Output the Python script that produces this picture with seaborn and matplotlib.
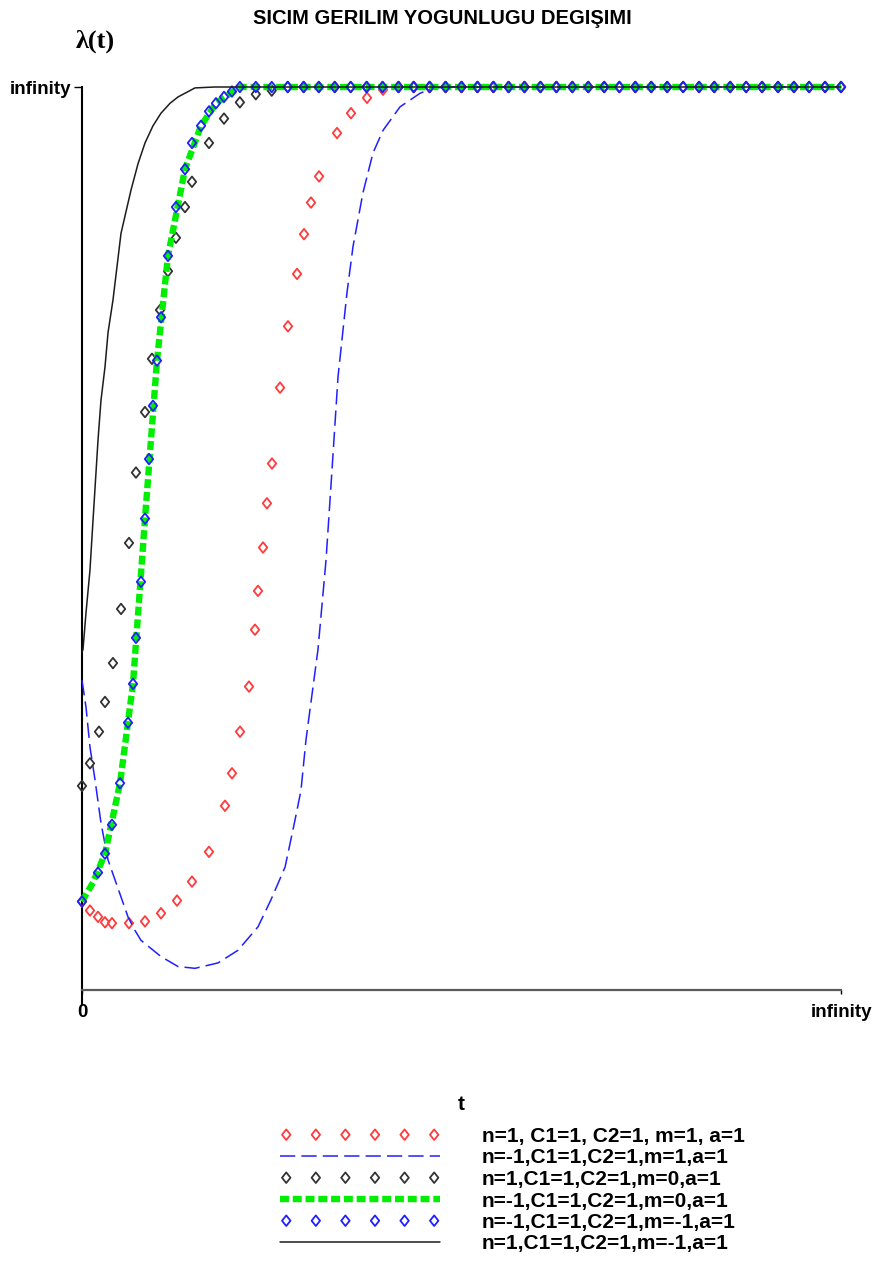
import matplotlib
matplotlib.use("Agg")
import matplotlib.pyplot as plt
import seaborn as sns
from matplotlib.path import Path

# Compactified axes: 0 .. 100 on both axes, 100 standing for infinity.
title = "SICIM GERILIM YOGUNLUGU DEGIŞIMI"
x_ticks = [0, 100]
x_tick_labels = ["0", "infinity"]
y_ticks = [100]
y_tick_labels = ["infinity"]

series_labels = [
    "n=1, C1=1, C2=1, m=1, a=1",
    "n=-1,C1=1,C2=1,m=1,a=1",
    "n=1,C1=1,C2=1,m=0,a=1",
    "n=-1,C1=1,C2=1,m=0,a=1",
    "n=-1,C1=1,C2=1,m=-1,a=1",
    "n=1,C1=1,C2=1,m=-1,a=1",
]

# n=1, m=1  (red diamonds)
red_x = [0.0, 1.05, 2.11, 3.03, 3.95, 6.19, 8.30, 10.41, 12.52, 14.49,
         16.73, 18.84, 19.76, 20.82, 22.00, 22.79, 23.19, 23.85, 24.37, 25.03,
         26.09, 27.14, 28.33, 29.25, 30.17, 31.23, 33.60, 35.44, 37.55, 39.66,
         41.7, 43.7, 45.8, 47.9, 50.0, 52.1, 54.2, 56.2, 58.3, 60.4,
         62.5, 64.6, 66.7, 68.8, 70.8, 72.9, 75.0, 77.1, 79.2, 81.3,
         83.3, 85.4, 87.5, 89.6, 91.7, 93.8, 95.8, 97.9, 100.0]
red_y = [9.8, 8.8, 8.1, 7.5, 7.4, 7.4, 7.6, 8.5, 9.9, 12.0,
         15.3, 20.4, 24.0, 28.6, 33.6, 39.9, 44.2, 49.0, 53.9, 58.3,
         66.7, 73.5, 79.3, 83.7, 87.2, 90.1, 94.9, 97.1, 98.8, 99.7,
         100.0, 100.0, 100.0, 100.0, 100.0, 100.0, 100.0, 100.0, 100.0, 100.0,
         100.0, 100.0, 100.0, 100.0, 100.0, 100.0, 100.0, 100.0, 100.0, 100.0,
         100.0, 100.0, 100.0, 100.0, 100.0, 100.0, 100.0, 100.0, 100.0]

# n=-1, m=1  (blue dashed)
bdash_x = [0.0, 0.53, 1.05, 1.71, 2.50, 3.43, 5.14, 6.06, 6.98, 7.77,
           10.41, 12.65, 14.89, 17.92, 20.55, 23.19, 24.90, 26.75, 28.06, 28.85,
           29.51, 31.09, 32.15, 32.94, 33.73, 34.91, 35.70, 37.02, 38.34, 39.66,
           41.90, 44.53, 46.25, 48.88, 100.0]
bdash_y = [34.3, 31.3, 26.9, 23.3, 18.5, 14.4, 10.3, 8.1, 6.6, 5.5,
           3.7, 2.6, 2.4, 3.0, 4.4, 7.0, 10.0, 13.6, 18.8, 22.1,
           27.7, 37.7, 47.6, 57.6, 67.9, 77.2, 82.3, 88.3, 92.7, 95.2,
           97.8, 99.3, 99.9, 100.0, 100.0]

# n=1, m=0  (black diamonds)
kdia_x = [0.0, 1.05, 2.24, 3.03, 4.08, 5.14, 6.19, 7.11, 8.30, 9.22,
          10.28, 11.33, 12.38, 13.57, 14.49, 16.73, 18.71, 20.8, 22.9, 25.0,
          27.1, 29.2, 31.2, 33.3, 35.4, 37.5, 39.6, 41.7, 43.7, 45.8,
          47.9, 50.0, 52.1, 54.2, 56.2, 58.3, 60.4, 62.5, 64.6, 66.7,
          68.8, 70.8, 72.9, 75.0, 77.1, 79.2, 81.3, 83.3, 85.4, 87.5,
          89.6, 91.7, 93.8, 95.8, 97.9, 100.0]
kdia_y = [22.6, 25.1, 28.6, 31.9, 36.2, 42.2, 49.5, 57.3, 64.0, 69.9,
          75.3, 79.6, 83.3, 86.7, 89.5, 93.8, 96.5, 98.3, 99.2, 99.6,
          100.0, 100.0, 100.0, 100.0, 100.0, 100.0, 100.0, 100.0, 100.0, 100.0,
          100.0, 100.0, 100.0, 100.0, 100.0, 100.0, 100.0, 100.0, 100.0, 100.0,
          100.0, 100.0, 100.0, 100.0, 100.0, 100.0, 100.0, 100.0, 100.0, 100.0,
          100.0, 100.0, 100.0, 100.0, 100.0, 100.0]

# n=-1, m=0  (green thick dashed)
green_x = [0.0, 1.45, 3.03, 5.01, 6.72, 8.30, 9.88, 11.33, 13.57, 15.68,
           17.65, 20.82, 100.0]
green_y = [9.8, 11.9, 15.1, 22.9, 33.9, 52.2, 69.7, 81.3, 90.9, 95.7,
           98.2, 100.0, 100.0]

# n=-1, m=-1  (blue diamonds)
bdia_x = [0.0, 2.11, 3.03, 3.95, 5.01, 6.06, 6.72, 7.11, 7.77, 8.30,
          8.83, 9.35, 9.88, 10.41, 11.33, 12.38, 13.57, 14.49, 15.68, 16.73,
          17.65, 18.71, 19.76, 20.8, 22.9, 25.0, 27.1, 29.2, 31.2, 33.3,
          35.4, 37.5, 39.6, 41.7, 43.7, 45.8, 47.9, 50.0, 52.1, 54.2,
          56.2, 58.3, 60.4, 62.5, 64.6, 66.7, 68.8, 70.8, 72.9, 75.0,
          77.1, 79.2, 81.3, 83.3, 85.4, 87.5, 89.6, 91.7, 93.8, 95.8,
          97.9, 100.0]
bdia_y = [9.8, 13.0, 15.1, 18.3, 22.9, 29.6, 33.9, 39.0, 45.2, 52.2,
          58.8, 64.7, 69.7, 74.5, 81.3, 86.7, 90.9, 93.8, 95.7, 97.3,
          98.2, 98.9, 99.5, 100.0, 100.0, 100.0, 100.0, 100.0, 100.0, 100.0,
          100.0, 100.0, 100.0, 100.0, 100.0, 100.0, 100.0, 100.0, 100.0, 100.0,
          100.0, 100.0, 100.0, 100.0, 100.0, 100.0, 100.0, 100.0, 100.0, 100.0,
          100.0, 100.0, 100.0, 100.0, 100.0, 100.0, 100.0, 100.0, 100.0, 100.0,
          100.0, 100.0]

# n=1, m=-1  (black solid)
ksol_x = [0.0, 0.13, 0.53, 1.05, 1.45, 2.11, 2.50, 3.03, 3.43, 4.08,
          5.14, 6.46, 7.38, 8.30, 9.35, 10.41, 11.60, 12.65, 14.89, 17.52, 100.0]
ksol_y = [37.4, 37.7, 41.8, 46.5, 52.0, 60.9, 65.3, 69.0, 72.8, 76.4,
          83.8, 88.6, 91.5, 93.8, 95.7, 97.1, 98.2, 98.9, 99.9, 100.0, 100.0]

RED = "#ff3b3b"
BLUE = "#1f1fff"
DARK = "#333333"
GREEN = "#00ee00"
LINE_BLACK = "#1c1c1c"

sns.set_theme(style="white")
plt.rcParams["font.family"] = ["Liberation Sans", "DejaVu Sans"]
plt.rcParams["font.weight"] = "bold"
plt.rcParams["text.color"] = "black"
plt.rcParams["xtick.color"] = "black"
plt.rcParams["ytick.color"] = "black"
plt.rcParams["axes.labelcolor"] = "black"

fig = plt.figure(figsize=(8.74, 12.75), dpi=100)
ax = fig.add_axes([82 / 874, 285 / 1275, 759 / 874, 903 / 1275])

diamond = Path([(0, 1.25), (1, 0), (0, -1.25), (-1, 0), (0, 1.25)],
               [Path.MOVETO, Path.LINETO, Path.LINETO, Path.LINETO, Path.CLOSEPOLY])

mk = dict(marker=diamond, s=58, facecolor="none", linewidth=1.3, clip_on=False)

sns.scatterplot(x=red_x, y=red_y, ax=ax, edgecolor=RED, zorder=3.0, **mk)
h_red = ax.collections[-1]

sns.lineplot(x=bdash_x, y=bdash_y, ax=ax, sort=False, estimator=None,
             color=BLUE, lw=1.1, linestyle=(0, (10, 4)), zorder=3.1, clip_on=False)
h_bdash = ax.lines[-1]

sns.scatterplot(x=kdia_x, y=kdia_y, ax=ax, edgecolor=DARK, zorder=3.2, **mk)
h_kdia = ax.collections[-1]

sns.lineplot(x=green_x, y=green_y, ax=ax, sort=False, estimator=None,
             color=GREEN, lw=4.6, linestyle=(0, (1.4, 0.6)), zorder=3.3,
             clip_on=False)
h_green = ax.lines[-1]

sns.scatterplot(x=bdia_x, y=bdia_y, ax=ax, edgecolor=BLUE, zorder=3.4, **mk)
h_bdia = ax.collections[-1]

sns.lineplot(x=ksol_x, y=ksol_y, ax=ax, sort=False, estimator=None,
             color=LINE_BLACK, lw=1.1, zorder=3.5, clip_on=False)
h_ksol = ax.lines[-1]

ax.set_xlim(0, 100)
ax.set_ylim(0, 100)
ax.set_xlabel("")
ax.set_ylabel("")
ax.grid(False)
ax.set_facecolor("white")
for side in ("top", "right"):
    ax.spines[side].set_visible(False)
ax.spines["left"].set_color("black")
ax.spines["left"].set_linewidth(1.5)
ax.spines["left"].set_bounds(-1.5, 100)
ax.spines["bottom"].set_color("#5a5a5a")
ax.spines["bottom"].set_linewidth(1.6)

ax.set_xticks(x_ticks)
ax.set_xticklabels(x_tick_labels)
ax.set_yticks(y_ticks)
ax.set_yticklabels(y_tick_labels)
ax.tick_params(axis="x", length=3, width=1, pad=7, labelsize=13.5, color="black",
               labelcolor="black", direction="out", bottom=True)
ax.tick_params(axis="y", length=6, width=1, pad=2, labelsize=13.5, color="black",
               labelcolor="black", direction="out", left=True)
for lab in ax.get_xticklabels() + ax.get_yticklabels():
    lab.set_fontweight("bold")
ax.get_xticklabels()[0].set_x(0.6)

fig.text(442 / 874, 1 - 18 / 1275, title, ha="center", va="center",
         fontsize=14.5, fontweight="bold", color="black")
fig.text(95 / 874, 1 - 41 / 1275, "λ(t)", ha="center", va="center", color="black",
         fontsize=19, fontweight="bold", family=["Liberation Serif", "DejaVu Serif"])
fig.text(461 / 874, 1 - 1104 / 1275, "t", ha="center", va="center",
         fontsize=15, fontweight="bold", color="black")

handles = [h_red, h_bdash, h_kdia, h_green, h_bdia, h_ksol]
leg = fig.legend(handles, series_labels, loc="upper left",
                 bbox_to_anchor=(280 / 874, 1 - 1127 / 1275),
                 frameon=False, borderpad=0, borderaxespad=0,
                 handlelength=7.7, handletextpad=2.0, labelspacing=0.12,
                 scatterpoints=6, scatteryoffsets=[0.5],
                 prop=dict(size=15, weight="bold"))
for txt in leg.get_texts():
    txt.set_color("black")

fig.savefig("out.png", dpi=100, facecolor="white")
